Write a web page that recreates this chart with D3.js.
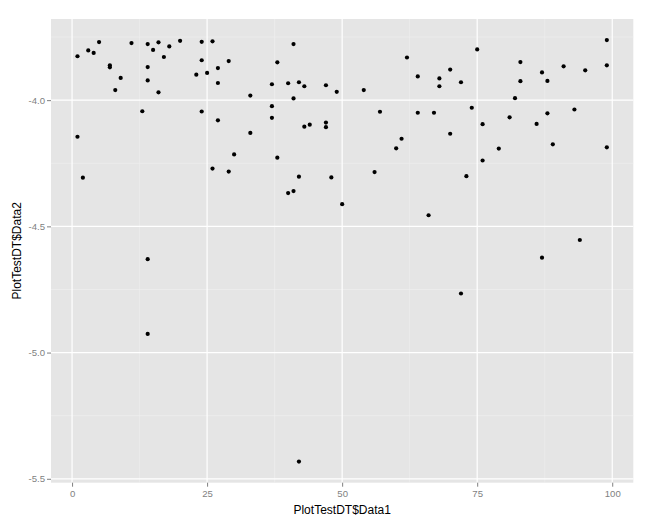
<!DOCTYPE html>
<html>
<head>
<meta charset="utf-8">
<script src="https://cdnjs.cloudflare.com/ajax/libs/d3/7.8.5/d3.min.js"></script>
<style>
  body { margin: 0; background: #fff; }
  svg text { font-family: "Liberation Sans", Arial, sans-serif; }
</style>
</head>
<body>
<div id="chart"></div>
<script>
// values
const data1 = [1, 3, 4, 5, 7, 7, 9, 8, 11, 14, 15, 16, 18, 20, 24, 14, 14, 17, 16, 24,
  23, 25, 13, 24, 1, 2, 26, 41, 29, 27, 27, 38, 37, 40, 42, 43, 47, 49, 33, 41,
  37, 37, 27, 43, 44, 47, 47, 33, 30, 38, 26, 29, 42, 48, 40, 41, 75, 62, 70, 64,
  68, 68, 72, 54, 74, 57, 64, 67, 76, 70, 61, 60, 76, 56, 73, 99, 83, 91, 99, 95,
  87, 83, 88, 82, 93, 88, 81, 86, 89, 99, 79, 50, 14, 14, 66, 87, 94, 72, 42];
const data2 = [-3.826, -3.803, -3.813, -3.770, -3.862, -3.870, -3.912, -3.960, -3.774, -3.778,
  -3.801, -3.771, -3.787, -3.765, -3.769, -3.869, -3.922, -3.829, -3.969, -3.842,
  -3.899, -3.892, -4.044, -4.045, -4.145, -4.307, -3.767, -3.778, -3.845, -3.873,
  -3.932, -3.850, -3.937, -3.933, -3.929, -3.945, -3.941, -3.967, -3.982, -3.993,
  -4.024, -4.070, -4.080, -4.105, -4.097, -4.089, -4.107, -4.130, -4.215, -4.228,
  -4.271, -4.283, -4.303, -4.306, -4.368, -4.360, -3.799, -3.831, -3.879, -3.906,
  -3.914, -3.945, -3.929, -3.960, -4.030, -4.046, -4.050, -4.050, -4.095, -4.133,
  -4.153, -4.191, -4.239, -4.285, -4.301, -3.762, -3.849, -3.866, -3.862, -3.882,
  -3.890, -3.925, -3.924, -3.992, -4.037, -4.052, -4.068, -4.094, -4.175, -4.187,
  -4.192, -4.412, -4.630, -4.926, -4.456, -4.624, -4.554, -4.766, -5.432];

const xTicks = [0, 25, 50, 75, 100];
const xMinor = [12.5, 37.5, 62.5, 87.5];
const yTicks = [-4.0, -4.5, -5.0, -5.5];
const yMinor = [-3.75, -4.25, -4.75, -5.25];

const width = 653, height = 525;
const panel = { left: 51, right: 633.3, top: 19, bottom: 482.7 };

// ggplot style 5% expansion of the data range
function expand(ext) {
  const d = (ext[1] - ext[0]) * 0.05;
  return [ext[0] - d, ext[1] + d];
}

const x = d3.scaleLinear().domain(expand(d3.extent(data1))).range([panel.left, panel.right]);
const y = d3.scaleLinear().domain(expand(d3.extent(data2))).range([panel.bottom, panel.top]);

const svg = d3.select("#chart").append("svg")
  .attr("width", width)
  .attr("height", height);

svg.append("rect")
  .attr("x", panel.left).attr("y", panel.top)
  .attr("width", panel.right - panel.left)
  .attr("height", panel.bottom - panel.top)
  .attr("fill", "#e5e5e5");

const grid = svg.append("g");
grid.selectAll(".vminor").data(xMinor).join("line")
  .attr("x1", d => x(d)).attr("x2", d => x(d))
  .attr("y1", panel.top).attr("y2", panel.bottom)
  .attr("stroke", "#f0f0f0").attr("stroke-width", 0.6);
grid.selectAll(".hminor").data(yMinor).join("line")
  .attr("y1", d => y(d)).attr("y2", d => y(d))
  .attr("x1", panel.left).attr("x2", panel.right)
  .attr("stroke", "#f0f0f0").attr("stroke-width", 0.6);
grid.selectAll(".vmajor").data(xTicks).join("line")
  .attr("x1", d => x(d)).attr("x2", d => x(d))
  .attr("y1", panel.top).attr("y2", panel.bottom)
  .attr("stroke", "#fff").attr("stroke-width", 1.2);
grid.selectAll(".hmajor").data(yTicks).join("line")
  .attr("y1", d => y(d)).attr("y2", d => y(d))
  .attr("x1", panel.left).attr("x2", panel.right)
  .attr("stroke", "#fff").attr("stroke-width", 1.2);

svg.append("g")
  .selectAll("circle")
  .data(d3.zip(data1, data2))
  .join("circle")
  .attr("cx", d => x(d[0]))
  .attr("cy", d => y(d[1]))
  .attr("r", 2.1)
  .attr("fill", "#000");

const xAxis = svg.append("g")
  .attr("transform", `translate(0,${panel.bottom})`)
  .call(d3.axisBottom(x).tickValues(xTicks).tickSize(4).tickPadding(3).tickFormat(d3.format("d")));
const yAxis = svg.append("g")
  .attr("transform", `translate(${panel.left},0)`)
  .call(d3.axisLeft(y).tickValues(yTicks).tickSize(4).tickPadding(2).tickFormat(d3.format(".1f")));

[xAxis, yAxis].forEach(g => {
  g.select(".domain").remove();
  g.selectAll(".tick line").attr("stroke", "#7f7f7f");
  g.selectAll(".tick text")
    .attr("fill", "#7f7f7f")
    .style("font-size", "9.6px")
    .style("font-family", "'Liberation Sans', Arial, sans-serif");
});
yAxis.selectAll(".tick text").text(d => d3.format(".1f")(d).replace("−", "-"));

svg.append("text")
  .attr("x", (panel.left + panel.right) / 2)
  .attr("y", 514)
  .attr("text-anchor", "middle")
  .style("font-size", "12px")
  .text("PlotTestDT$Data1");

svg.append("text")
  .attr("transform", `translate(21,${(panel.top + panel.bottom) / 2}) rotate(-90)`)
  .attr("text-anchor", "middle")
  .style("font-size", "12px")
  .text("PlotTestDT$Data2");
</script>
</body>
</html>
